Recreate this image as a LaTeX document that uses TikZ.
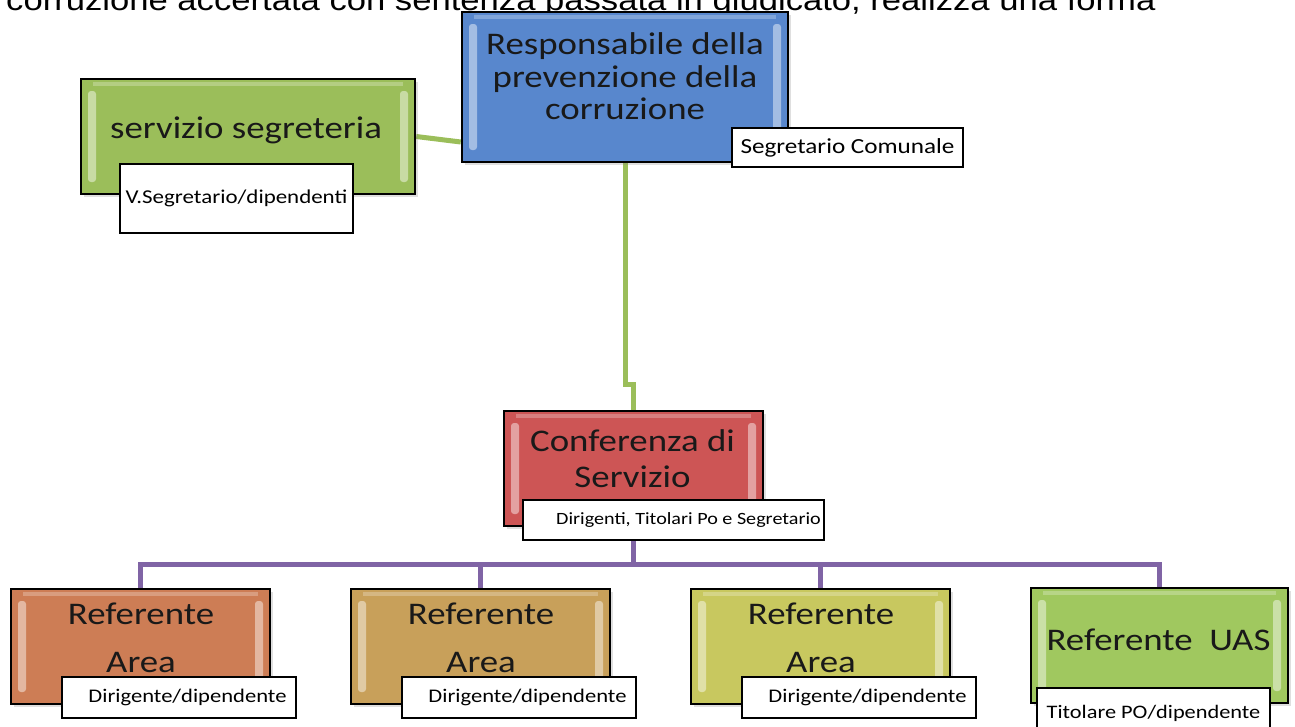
\documentclass[tikz,border=0pt]{standalone}
\usepackage{fontspec}
\setmainfont{Carlito}[FakeStretch=1.17]
\newfontfamily\topfont{Liberation Sans}[FakeStretch=1.17]
\usetikzlibrary{shadows,backgrounds,calc}
\definecolor{cblue}{RGB}{88,135,205}
\definecolor{cseg}{RGB}{155,190,90}
\definecolor{cred}{RGB}{205,85,85}
\definecolor{corange}{RGB}{205,125,85}
\definecolor{ctan}{RGB}{200,160,90}
\definecolor{cyg}{RGB}{200,200,95}
\definecolor{cuas}{RGB}{160,200,95}
\definecolor{lgreen}{RGB}{155,190,90}
\definecolor{purp}{RGB}{128,100,165}
\tikzset{
  box/.style={draw=black, line width=2.5pt, rectangle, inner sep=0pt,
    drop shadow={shadow xshift=3pt,shadow yshift=-3pt,opacity=0.25},
    path picture={
      \fill[white,opacity=0.45,rounded corners=3pt]
        ([xshift=7pt,yshift=-12pt]path picture bounding box.north west) rectangle
        ([xshift=15pt,yshift=12pt]path picture bounding box.south west);
      \fill[white,opacity=0.45,rounded corners=3pt]
        ([xshift=-7pt,yshift=-12pt]path picture bounding box.north east) rectangle
        ([xshift=-15pt,yshift=12pt]path picture bounding box.south east);
      \fill[white,opacity=0.25]
        ([xshift=12pt,yshift=-3pt]path picture bounding box.north west) rectangle
        ([xshift=-12pt,yshift=-7pt]path picture bounding box.north east);
    }},
  boxtext/.style={font=\fontsize{31.5pt}{32.5pt}\selectfont, align=center, text=black!90, inner sep=0pt},
  tag/.style={draw=black, line width=2pt, fill=white, inner sep=0pt, anchor=north west},
  conn/.style={line width=5pt},
}
\begin{document}
\begin{tikzpicture}[x=1pt,y=-1pt]
\useasboundingbox (0,0) rectangle (1295,726);

\node[anchor=base west, inner sep=0pt, font=\topfont\fontsize{29.6pt}{36pt}\selectfont] (toptext) at (6,10.5)
  {corruzione accertata con sentenza passata in giudicato, realizza una forma};

% boxes
\node[box, fill=cblue, minimum width=326pt, minimum height=150pt] (resp) at (625,87) {};
\node[box, fill=cseg, minimum width=334pt, minimum height=115pt] (seg) at (248,136.5) {};
\node[box, fill=cred, minimum width=259pt, minimum height=115pt] (conf) at (633.5,468.5) {};
\node[box, fill=corange, minimum width=259pt, minimum height=115pt] (r1) at (140.5,646.5) {};
\node[box, fill=ctan, minimum width=259pt, minimum height=115pt] (r2) at (480.5,646.5) {};
\node[box, fill=cyg, minimum width=259pt, minimum height=115pt] (r3) at (820.5,646.5) {};
\node[box, fill=cuas, minimum width=257pt, minimum height=115pt] (r4) at (1159.5,645.5) {};

% box texts
\node[boxtext] (respT) at (625,76.5) {Responsabile della\\prevenzione della\\corruzione};
\node[boxtext, anchor=base] (segT) at (246,138) {servizio segreteria};
\node[boxtext] (confT) at (632.5,459) {Conferenza di\\[3.5pt]Servizio};
\node[boxtext] (r1T) at (141,638) {Referente\\[15.5pt]Area};
\node[boxtext] (r2T) at (481,638) {Referente\\[15.5pt]Area};
\node[boxtext] (r3T) at (821,638) {Referente\\[15.5pt]Area};
\node[boxtext, anchor=base] (r4T) at (1158.5,650) {Referente\ \ UAS};

% tags
\node[tag, minimum width=231pt, minimum height=39pt, font=\fontsize{21.5pt}{24pt}\selectfont] (segcom) at (731,127) {Segretario Comunale};
\node[tag, minimum width=233pt, minimum height=69pt, font=\fontsize{19.6pt}{24pt}\selectfont] (vseg) at (119,163) {V.Segretario/dipendenti};
\node[tag, minimum width=301pt, minimum height=40pt, font=\fontsize{17.2pt}{20pt}\selectfont] (dirig) at (522,499) {\hspace*{30pt}Dirigenti, Titolari Po e Segretario};
\node[tag, minimum width=234pt, minimum height=41pt, font=\fontsize{19.3pt}{22pt}\selectfont] (d1) at (61,676) {\hspace*{17pt}Dirigente/dipendente};
\node[tag, minimum width=234pt, minimum height=41pt, font=\fontsize{19.3pt}{22pt}\selectfont] (d2) at (401,676) {\hspace*{17pt}Dirigente/dipendente};
\node[tag, minimum width=234pt, minimum height=41pt, font=\fontsize{19.3pt}{22pt}\selectfont] (d3) at (741,676) {\hspace*{17pt}Dirigente/dipendente};
\node[tag, minimum width=233pt, minimum height=50pt, font=\fontsize{19.1pt}{22pt}\selectfont] (titol) at (1036,687) {Titolare PO/dipendente};

\coordinate (bus) at (633.5,564);

% connectors
\begin{scope}[on background layer]
\fill[white] (0,0) rectangle (1295,726);
\draw[conn, lgreen] (seg.east) -- ([yshift=-55pt]resp.west);
\draw[conn, lgreen] (resp.south) -- ++(0,221) -| (conf.north);
\draw[conn, purp] (conf.south) -- (conf.south |- bus);
\draw[conn, purp] (r1.north) |- (r4.north |- bus) -- (r4.north);
\draw[conn, purp] (r2.north) -- (r2.north |- bus);
\draw[conn, purp] (r3.north) -- (r3.north |- bus);
\end{scope}
\end{tikzpicture}
\end{document}
